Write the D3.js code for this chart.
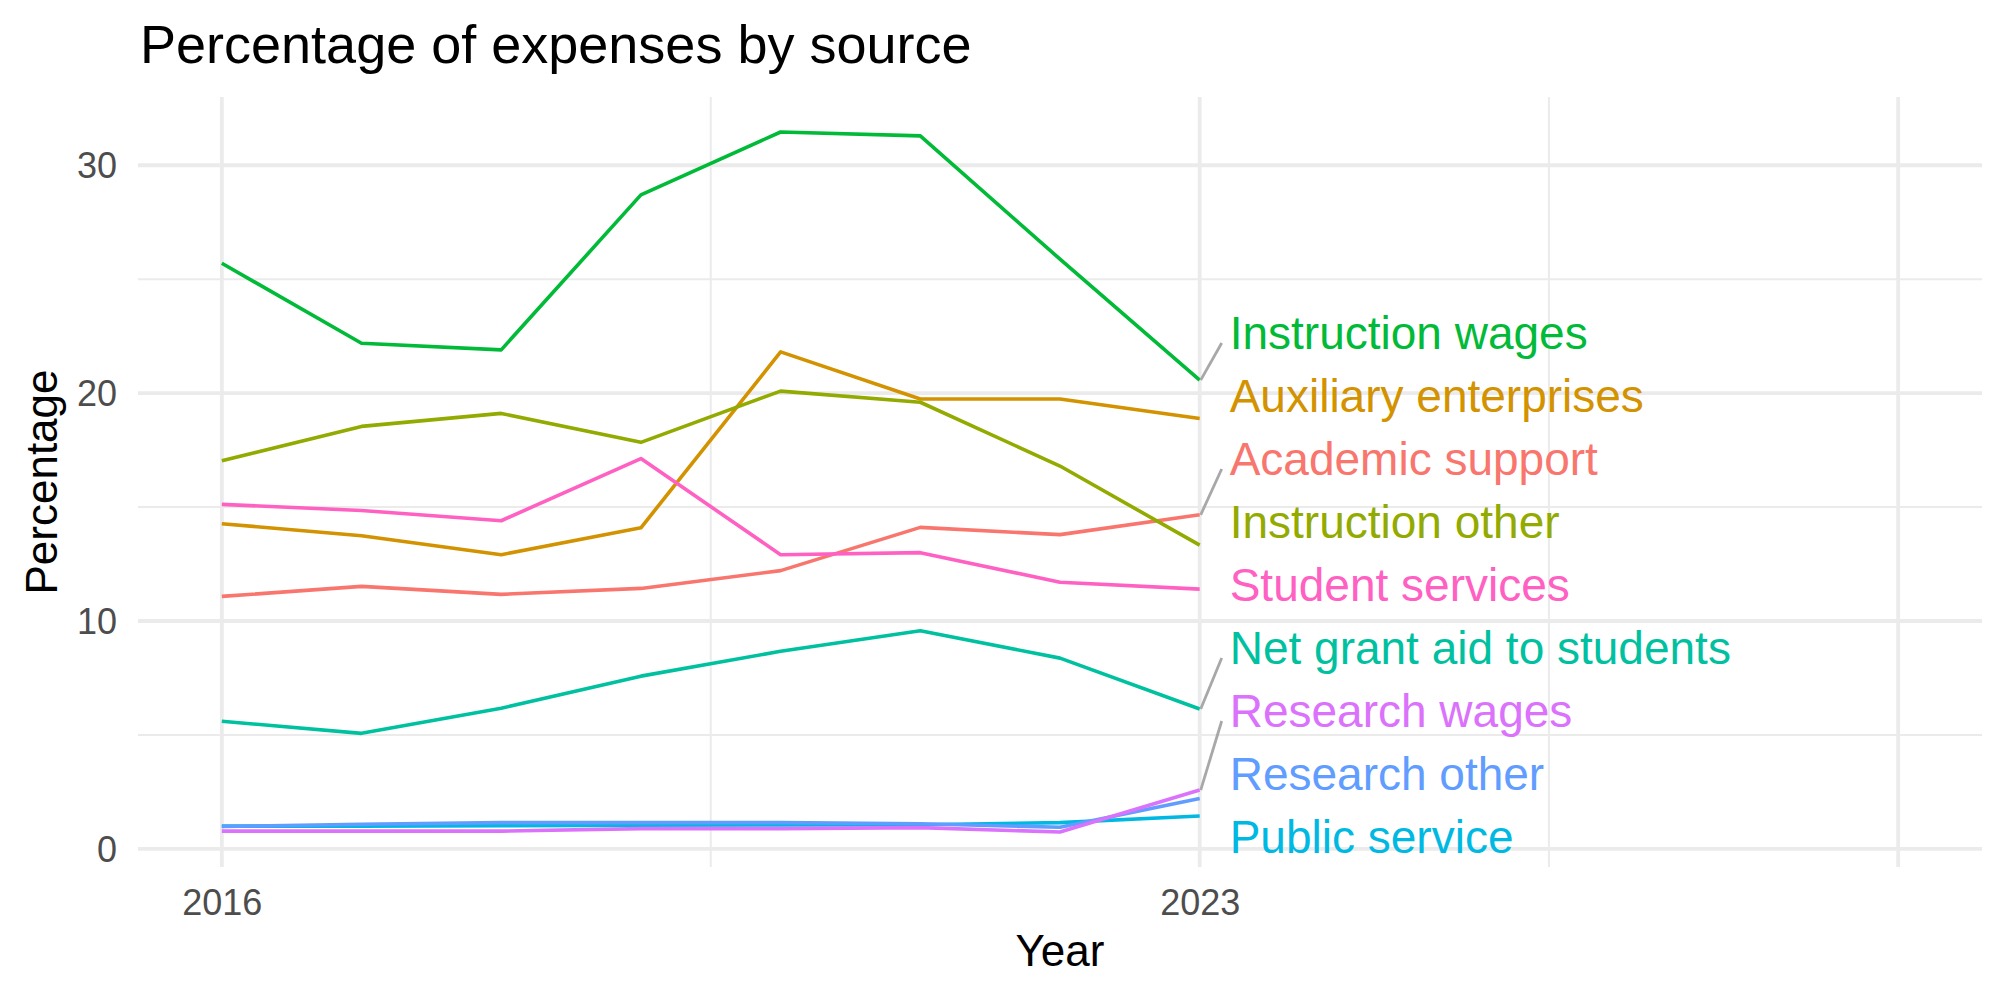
<!DOCTYPE html>
<html>
<head>
<meta charset="utf-8">
<script src="https://cdn.jsdelivr.net/npm/d3@7"></script>
<style>
  html, body { margin: 0; padding: 0; background: #ffffff; }
  svg { display: block; }
</style>
</head>
<body>
<svg id="chart" width="2000" height="1000"></svg>
<script>
// ---------------- data ----------------
const years = [2016, 2017, 2018, 2019, 2020, 2021, 2022, 2023];
const categories = [
  "Academic support", "Auxiliary enterprises", "Instruction other", "Instruction wages",
  "Net grant aid to students", "Public service", "Research other", "Research wages", "Student services"
];
const academicSupport      = [11.08, 11.52, 11.17, 11.43, 12.21, 14.11, 13.79, 14.66];
const auxiliaryEnterprises = [14.27, 13.74, 12.91, 14.09, 21.81, 19.74, 19.74, 18.89];
const instructionOther     = [17.03, 18.54, 19.11, 17.84, 20.09, 19.60, 16.80, 13.33];
const instructionWages     = [25.70, 22.19, 21.90, 28.70, 31.46, 31.29, 25.88, 20.57];
const netGrantAid          = [5.60, 5.07, 6.17, 7.58, 8.67, 9.57, 8.37, 6.14];
const publicService        = [1.00, 1.00, 1.02, 1.04, 1.05, 1.06, 1.15, 1.44];
const researchOther        = [0.98, 1.08, 1.15, 1.15, 1.15, 1.10, 0.95, 2.21];
const researchWages        = [0.78, 0.78, 0.78, 0.89, 0.89, 0.93, 0.74, 2.58];
const studentServices      = [15.12, 14.85, 14.40, 17.13, 12.91, 13.00, 11.70, 11.40];
const seriesValues = [academicSupport, auxiliaryEnterprises, instructionOther, instructionWages,
  netGrantAid, publicService, researchOther, researchWages, studentServices];
const colors = ["#F8766D", "#D39200", "#93AA00", "#00BA38", "#00C19F", "#00B9E3", "#619CFF", "#DB72FB", "#FF61C3"];

const xLimits = [2016, 2028];
const xTickValues = [2016, 2023, 2028];
const xTickLabels = ["2016", "2023", ""];
const yTickValues = [0, 10, 20, 30];
const yTickLabels = ["0", "10", "20", "30"];

const titleText = "Percentage of expenses by source";
const xTitle = "Year";
const yTitle = "Percentage";

// ---------------- layout ----------------
const FONT = "'Liberation Sans', Arial, Helvetica, sans-serif";
const panel = { left: 138, right: 1982, top: 97, bottom: 867 };
const svg = d3.select("#chart");
svg.append("rect").attr("width", 2000).attr("height", 1000).attr("fill", "#ffffff");

function expand(lo, hi, m) { const d = (hi - lo) * m; return [lo - d, hi + d]; }

const allVals = seriesValues.flat();
const x = d3.scaleLinear().domain(expand(xLimits[0], xLimits[1], 0.05)).range([panel.left, panel.right]);
const y = d3.scaleLinear().domain(expand(d3.min(allVals), d3.max(allVals), 0.05)).range([panel.bottom, panel.top]);

// gridlines
const grid = svg.append("g");
const xMinor = d3.range(xTickValues.length - 1).map(i => (xTickValues[i] + xTickValues[i + 1]) / 2);
const yMinor = d3.range(yTickValues.length - 1).map(i => (yTickValues[i] + yTickValues[i + 1]) / 2);
const yDom = y.domain();
if (yTickValues[yTickValues.length - 1] + 5 < yDom[1]) yMinor.push(yTickValues[yTickValues.length - 1] + 5);

grid.selectAll(".ymin").data(yMinor).join("line")
  .attr("x1", panel.left).attr("x2", panel.right)
  .attr("y1", d => y(d)).attr("y2", d => y(d))
  .attr("stroke", "#EBEBEB").attr("stroke-width", 2);
grid.selectAll(".xmin").data(xMinor).join("line")
  .attr("y1", panel.top).attr("y2", panel.bottom)
  .attr("x1", d => x(d)).attr("x2", d => x(d))
  .attr("stroke", "#EBEBEB").attr("stroke-width", 2);
grid.selectAll(".ymaj").data(yTickValues).join("line")
  .attr("x1", panel.left).attr("x2", panel.right)
  .attr("y1", d => y(d)).attr("y2", d => y(d))
  .attr("stroke", "#EBEBEB").attr("stroke-width", 3.8);
grid.selectAll(".xmaj").data(xTickValues).join("line")
  .attr("y1", panel.top).attr("y2", panel.bottom)
  .attr("x1", d => x(d)).attr("x2", d => x(d))
  .attr("stroke", "#EBEBEB").attr("stroke-width", 3.8);

// axes (text only, like theme_minimal)
const xAxis = d3.axisBottom(x).tickValues(xTickValues)
  .tickFormat((d, i) => xTickLabels[i]).tickSize(0).tickPadding(0);
const gx = svg.append("g").attr("transform", `translate(0, ${panel.bottom + 22})`).call(xAxis);
gx.select(".domain").remove();
gx.selectAll("text").attr("font-family", FONT).attr("font-size", 36).attr("fill", "#4D4D4D").attr("dy", "0.71em");

const yAxis = d3.axisLeft(y).tickValues(yTickValues)
  .tickFormat((d, i) => yTickLabels[i]).tickSize(0).tickPadding(0);
const gy = svg.append("g").attr("transform", `translate(${panel.left - 21}, 0)`).call(yAxis);
gy.select(".domain").remove();
gy.selectAll("text").attr("font-family", FONT).attr("font-size", 36).attr("fill", "#4D4D4D").attr("dy", "0.35em");

// lines
const line = d3.line().x((d, i) => x(years[i])).y(d => y(d));
svg.append("g").selectAll("path").data(seriesValues).join("path")
  .attr("d", d => line(d))
  .attr("fill", "none")
  .attr("stroke", (d, i) => colors[i])
  .attr("stroke-width", 3.6)
  .attr("stroke-linejoin", "round");

// repelled end labels
const lastYear = years[years.length - 1];
const spacing = 63;
const minY = panel.top + 30, maxY = panel.bottom - 30;
const items = categories.map((c, i) => ({ name: c, color: colors[i], target: y(seriesValues[i][seriesValues[i].length - 1]) }))
  .sort((a, b) => a.target - b.target);
let clusters = items.map(it => ({ items: [it] }));
function place(cl) {
  const n = cl.items.length;
  const mean = d3.mean(cl.items, d => d.target);
  let top = mean - (n - 1) * spacing / 2;
  top = Math.max(minY, Math.min(maxY - (n - 1) * spacing, top));
  cl.top = top; cl.bottom = top + (n - 1) * spacing;
}
clusters.forEach(place);
let merged = true;
while (merged) {
  merged = false;
  for (let i = 0; i < clusters.length - 1; i++) {
    if (clusters[i].bottom + spacing > clusters[i + 1].top) {
      clusters[i].items = clusters[i].items.concat(clusters[i + 1].items);
      clusters.splice(i + 1, 1);
      place(clusters[i]);
      merged = true;
      break;
    }
  }
}
clusters.forEach(cl => cl.items.forEach((it, k) => { it.ly = cl.top + k * spacing; }));

const px = x(lastYear);
const labelX = px + 30;
const segs = items.filter(it => Math.abs(it.ly - it.target) > 35);
svg.append("g").selectAll("line").data(segs).join("line")
  .attr("x1", px + 1).attr("y1", d => d.target)
  .attr("x2", labelX - 8).attr("y2", d => d.ly + (d.target > d.ly ? 10 : -10))
  .attr("stroke", "#A8A8A8").attr("stroke-width", 2.8);

svg.append("g").selectAll("text").data(items).join("text")
  .attr("x", labelX).attr("y", d => d.ly).attr("dy", "0.35em")
  .attr("font-family", FONT).attr("font-size", 46)
  .attr("fill", d => d.color)
  .text(d => d.name);

// titles
svg.append("text").attr("x", 140).attr("y", 63)
  .attr("font-family", FONT).attr("font-size", 54).attr("fill", "#000")
  .text(titleText);
svg.append("text").attr("x", (panel.left + panel.right) / 2).attr("y", 966)
  .attr("text-anchor", "middle")
  .attr("font-family", FONT).attr("font-size", 44).attr("fill", "#000")
  .text(xTitle);
svg.append("text")
  .attr("transform", `translate(42, ${(panel.top + panel.bottom) / 2}) rotate(-90)`)
  .attr("text-anchor", "middle").attr("dy", "0.35em")
  .attr("font-family", FONT).attr("font-size", 44).attr("fill", "#000")
  .text(yTitle);
</script>
</body>
</html>
